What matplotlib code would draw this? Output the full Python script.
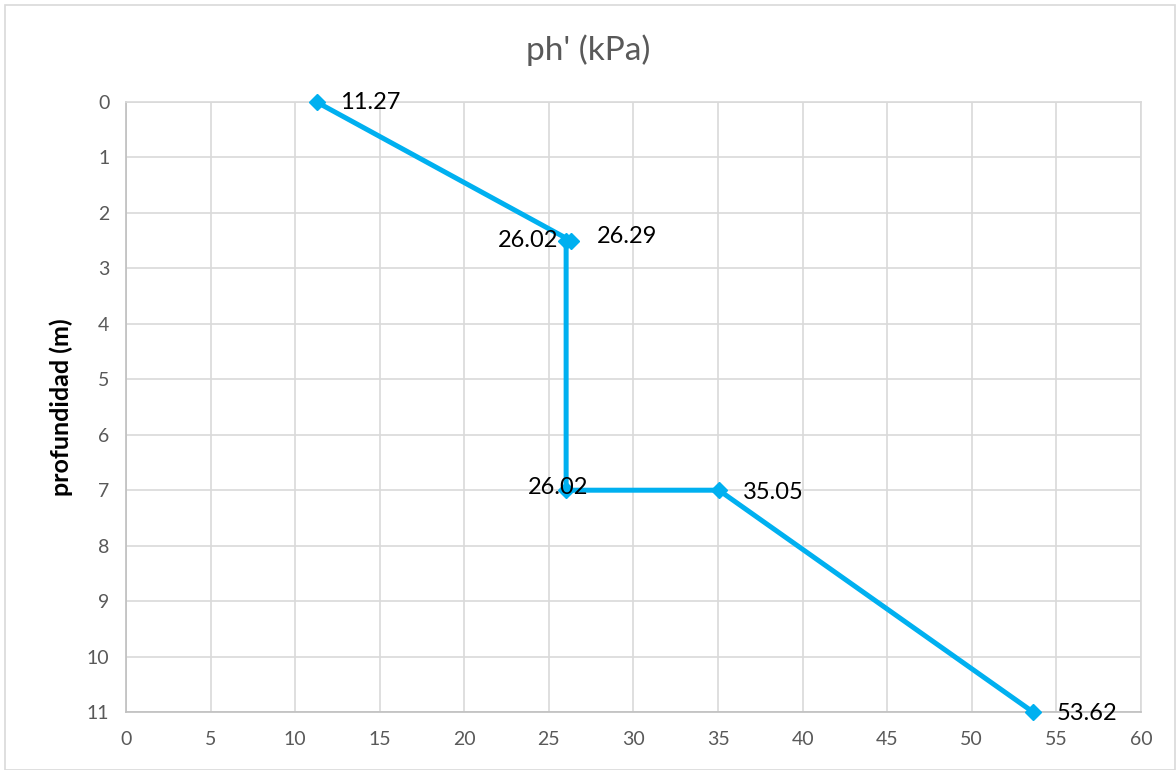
import matplotlib
matplotlib.use("Agg")
from matplotlib import pyplot as plt
from matplotlib.patches import Rectangle

# data
ph_kpa = [11.27, 26.29, 26.02, 26.02, 35.05, 53.62]
depth_m = [0, 2.5, 2.5, 7, 7, 11]
point_labels = ["11.27", "26.29", "26.02", "26.02", "35.05", "53.62"]
x_ticks = list(range(0, 61, 5))
y_ticks = list(range(0, 12))

plt.rcParams['font.family'] = ['Lato', 'DejaVu Sans']

fig = plt.figure(figsize=(11.76, 7.7), dpi=100)
fig.patches.append(Rectangle((0.004, 0.0), 0.995, 0.993, transform=fig.transFigure,
                             fill=False, edgecolor='#D9D9D9', linewidth=1.2))
ax = fig.add_axes([0.1071, 0.0753, 0.8631, 0.7922])

ax.plot(ph_kpa, depth_m, color='#00B0F0', linewidth=3.6, marker='D', markersize=8,
        markerfacecolor='#00B0F0', markeredgecolor='#00B0F0', zorder=3, clip_on=False)

# label offsets in points (dx, dy, ha)
offsets = [(17, 0, 'left'), (19, 3, 'left'), (-6, 0, 'right'), (-6, 2, 'center'), (17, -2, 'left'), (17, -1, 'left')]
for x, y, lab, (dx, dy, ha) in zip(ph_kpa, depth_m, point_labels, offsets):
    ax.annotate(lab, (x, y), xytext=(dx, dy), textcoords='offset points',
                ha=ha, va='center', fontsize=17, color='black', zorder=4)

ax.set_xlim(0, 60)
ax.set_ylim(11, 0)
ax.set_xticks(x_ticks)
ax.set_yticks(y_ticks)
ax.grid(True, color='#D9D9D9', linewidth=1.2)
ax.set_axisbelow(True)
ax.tick_params(length=0, labelsize=14, labelcolor='#595959')
ax.tick_params(axis='x', pad=14)
ax.tick_params(axis='y', pad=12)
for s in ax.spines.values():
    s.set_color('#D9D9D9')
    s.set_linewidth(1.2)
ax.spines['left'].set_color('#BFBFBF')
ax.spines['bottom'].set_color('#BFBFBF')

ax.set_ylabel('profundidad (m)', fontsize=18, fontweight='bold', color='black', labelpad=10)
fig.text(0.5, 0.935, "ph' (kPa)", ha='center', va='center', fontsize=24, color='#595959')

plt.savefig('out.png', dpi=100)
